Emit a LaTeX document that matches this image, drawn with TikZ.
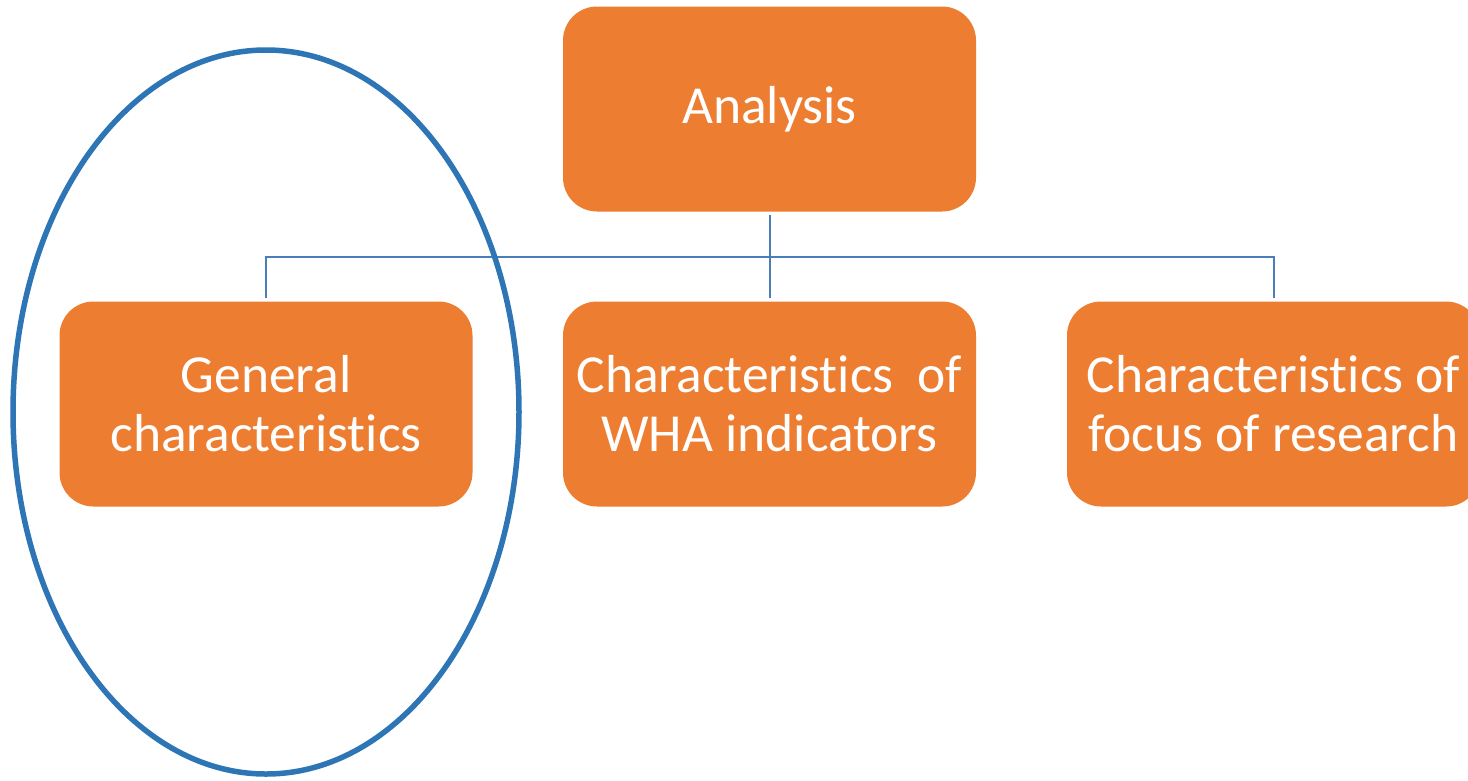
\documentclass[tikz,border=0pt]{standalone}
\usepackage{fontspec}
\setmainfont[Ligatures=NoCommon]{Carlito}
\usetikzlibrary{shapes.geometric}
\definecolor{boxorange}{HTML}{ED7D31}
\definecolor{ellblue}{HTML}{2E75B6}
\definecolor{linkblue}{HTML}{4A7EBB}
\tikzset{
  box/.style={fill=boxorange, draw=none, rounded corners=34pt, minimum width=413pt, minimum height=205pt, inner sep=0pt, align=center, text=white, font=\fontsize{53.5}{59}\selectfont},
  link/.style={draw=linkblue, line width=2pt},
  ring/.style={draw=ellblue, line width=5.5pt, ellipse, minimum width=506pt, minimum height=724pt, inner sep=0pt}
}
\begin{document}
\begin{tikzpicture}[x=1pt,y=-1pt]
\useasboundingbox (0,0) rectangle (1468,780);
\begin{scope}
\clip (0,0) rectangle (1468,780);
\node[box] (an) at (769.5,109) {Analysis};
\node[box] (gen) at (266,404) {General\\characteristics};
\node[box] (wha) at (769.5,404) {Characteristics~ of\\WHA indicators};
\node[box] (foc) at (1273.5,404) {Characteristics of\\focus of research};
\coordinate (bus) at (769.5,257);
\draw[link] ([yshift=-3pt]an.south) -- (bus);
\draw[link] ([yshift=3pt]gen.north) |- (bus);
\draw[link] ([yshift=3pt]foc.north) |- (bus);
\draw[link] ([yshift=3pt]wha.north) -- (bus);
\node[ring] (ell) at (266,412) {};
\end{scope}
\end{tikzpicture}
\end{document}
